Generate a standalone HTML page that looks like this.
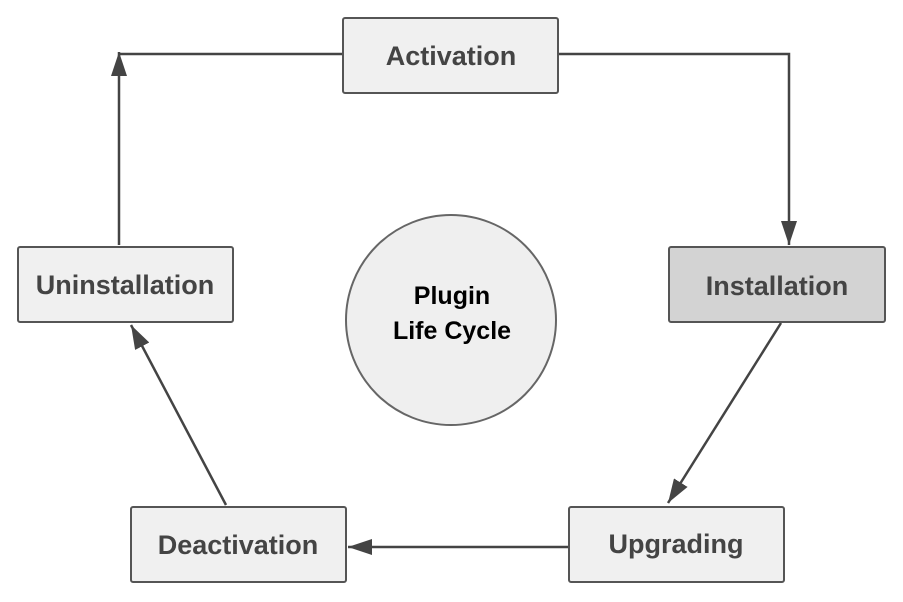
<!DOCTYPE html>
<html><head><style>body{margin:0;background:#fff}</style></head><body>
<svg width="903" height="597" xmlns="http://www.w3.org/2000/svg" font-family="Liberation Sans, sans-serif" font-weight="bold">
<defs>
<marker id="b" markerWidth="24" markerHeight="16" refX="24" refY="8" orient="auto" markerUnits="userSpaceOnUse"><path d="M0,0 L24,8 L0,16z" fill="#444"/></marker></defs>
<g stroke="#444" stroke-width="2.5" fill="none">
<polyline points="343,54 119,54"/>
<line x1="119" y1="245" x2="119" y2="52" marker-end="url(#b)"/>
<polyline points="558,54 789,54 789,245" marker-end="url(#b)"/>
<line x1="781" y1="323" x2="668" y2="503" marker-end="url(#b)"/>
<line x1="569" y1="547" x2="348" y2="547" marker-end="url(#b)"/>
<line x1="226" y1="505" x2="131" y2="325" marker-end="url(#b)"/>
</g>
<g stroke="#555" stroke-width="2">
<rect x="343" y="18" width="215" height="75" fill="#f0f0f0" rx="2"/>
<rect x="669" y="247" width="216" height="75" fill="#d3d3d3" rx="2"/>
<rect x="18" y="247" width="215" height="75" fill="#f0f0f0" rx="2"/>
<rect x="131" y="507" width="215" height="75" fill="#f0f0f0" rx="2"/>
<rect x="569" y="507" width="215" height="75" fill="#f0f0f0" rx="2"/>
<circle cx="451" cy="320" r="105" fill="#efefef" stroke="#666"/>
</g>
<g fill="#444" font-size="27" text-anchor="middle">
<text x="451" y="65">Activation</text>
<text x="777" y="295">Installation</text>
<text x="125" y="294">Uninstallation</text>
<text x="238" y="554">Deactivation</text>
<text x="676" y="553">Upgrading</text>
</g>
<g fill="#000" font-size="25" text-anchor="middle">
<text x="452" y="304">Plugin</text>
<text x="452" y="339">Life Cycle</text>
</g>
</svg>
</body></html>
